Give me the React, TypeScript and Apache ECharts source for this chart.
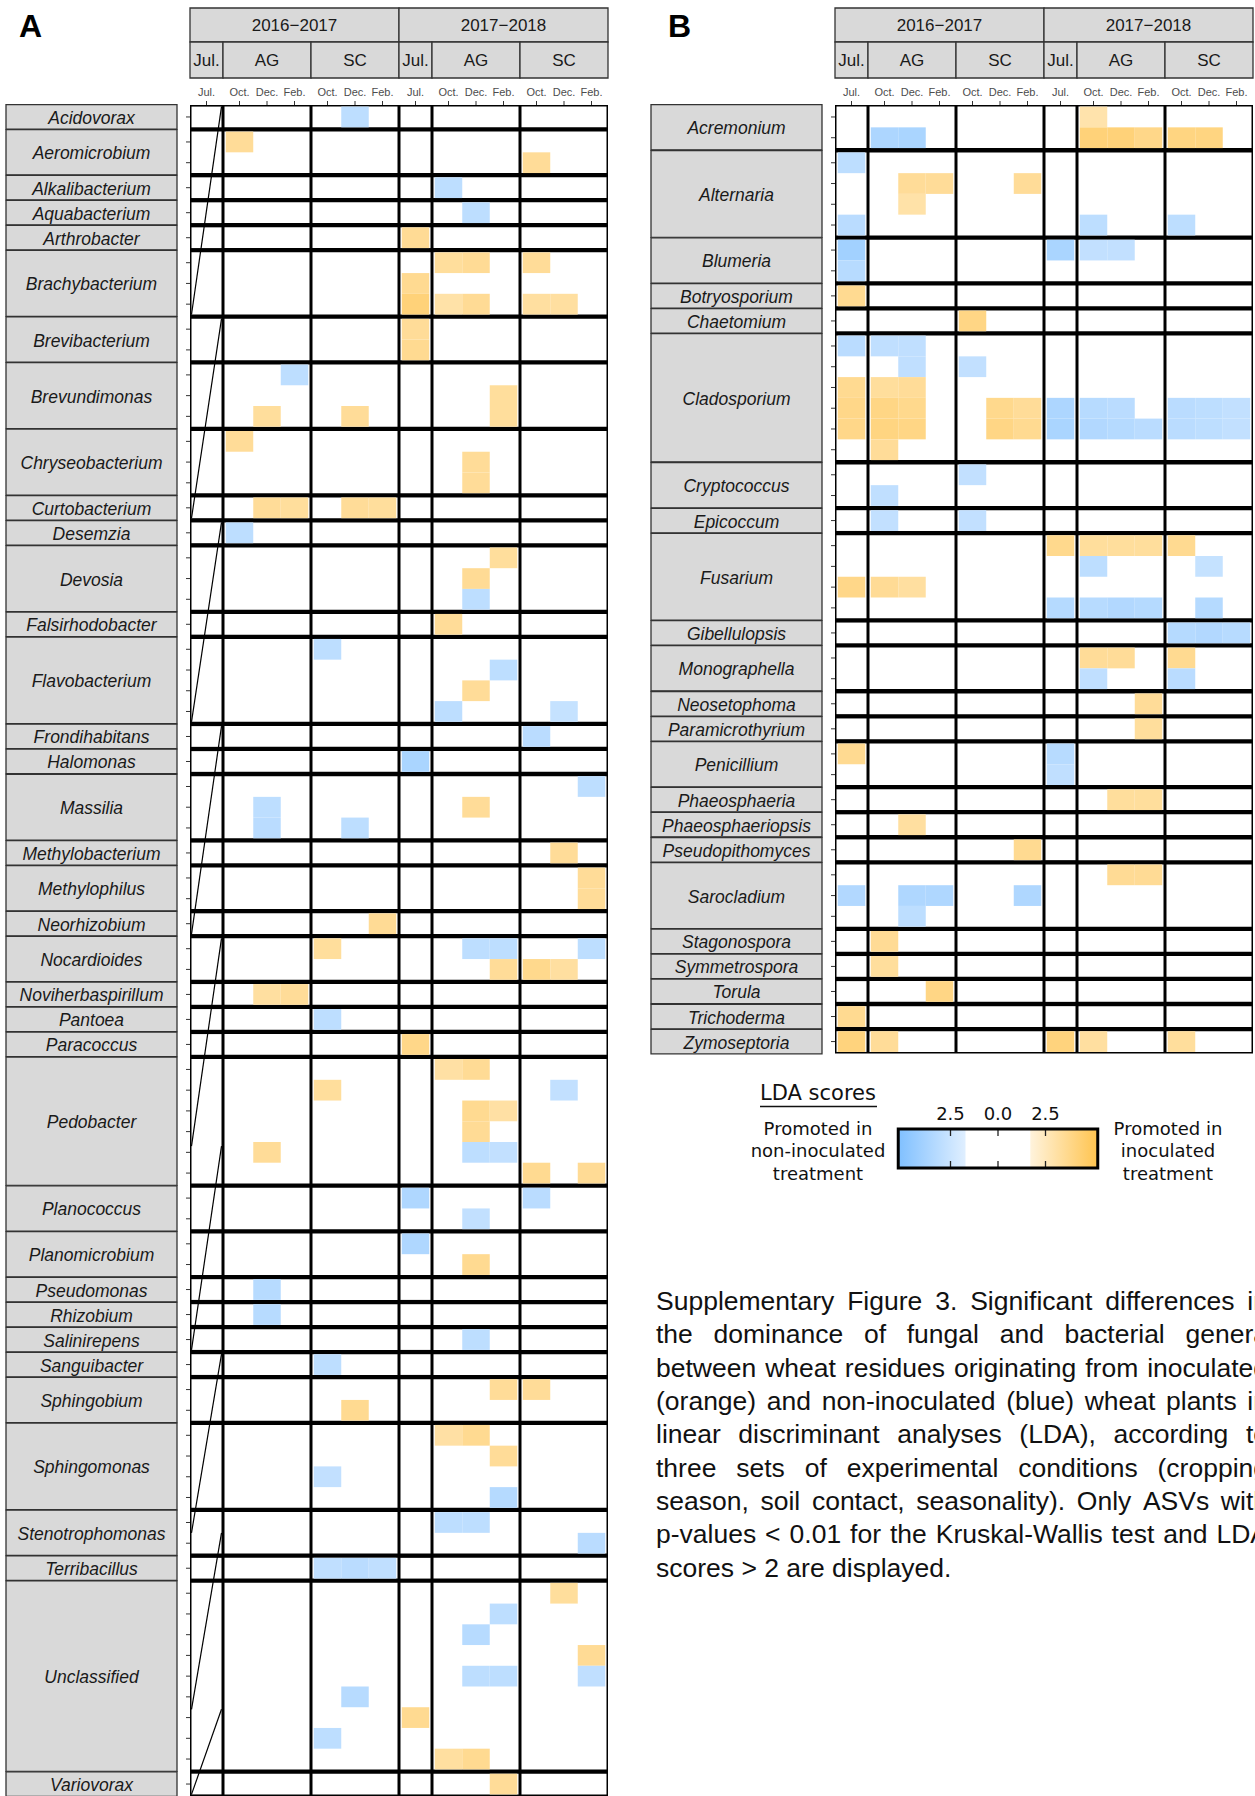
import React, { useEffect, useRef } from "react";
import * as echarts from "echarts";

// ---------------- data ----------------
const YEARS = ["2016−2017", "2017−2018"];
const TREATMENTS = ["Jul.", "AG", "SC"];
const MONTHS = [["Jul."], ["Oct.", "Dec.", "Feb."], ["Oct.", "Dec.", "Feb."]];
// column index: 0 Jul16, 1-3 AG16 Oct/Dec/Feb, 4-6 SC16, 7 Jul17, 8-10 AG17, 11-13 SC17

const BACT_GENERA = [
  "Acidovorax", "Aeromicrobium", "Alkalibacterium", "Aquabacterium", "Arthrobacter",
  "Brachybacterium", "Brevibacterium", "Brevundimonas", "Chryseobacterium", "Curtobacterium",
  "Desemzia", "Devosia", "Falsirhodobacter", "Flavobacterium", "Frondihabitans", "Halomonas",
  "Massilia", "Methylobacterium", "Methylophilus", "Neorhizobium", "Nocardioides",
  "Noviherbaspirillum", "Pantoea", "Paracoccus", "Pedobacter", "Planococcus", "Planomicrobium",
  "Pseudomonas", "Rhizobium", "Salinirepens", "Sanguibacter", "Sphingobium", "Sphingomonas",
  "Stenotrophomonas", "Terribacillus", "Unclassified", "Variovorax",
];
const BACT_ROWS = [1, 2, 1, 1, 1, 3, 2, 3, 3, 1, 1, 3, 1, 4, 1, 1, 3, 1, 2, 1, 2, 1, 1, 1, 6, 2, 2, 1, 1, 1, 1, 2, 4, 2, 1, 9, 1];
// [genus, row, column, LDA score]
const BACT_CELLS: number[][] = [
  [0, 0, 5, -3.0],
  [1, 0, 1, 3.4], [1, 1, 11, 3.4],
  [2, 0, 8, -3.0],
  [3, 0, 9, -3.0],
  [4, 0, 7, 3.5],
  [5, 0, 8, 3.3], [5, 0, 9, 3.5], [5, 0, 11, 3.4], [5, 1, 7, 3.6],
  [5, 2, 7, 4.2], [5, 2, 8, 3.0], [5, 2, 9, 3.5], [5, 2, 11, 3.2], [5, 2, 12, 3.2],
  [6, 0, 7, 3.4], [6, 1, 7, 3.6],
  [7, 0, 3, -3.0], [7, 1, 10, 3.3], [7, 2, 2, 3.3], [7, 2, 5, 3.4], [7, 2, 10, 3.3],
  [8, 0, 1, 3.4], [8, 1, 9, 3.4], [8, 2, 9, 3.4],
  [9, 0, 2, 3.4], [9, 0, 3, 3.3], [9, 0, 5, 3.4], [9, 0, 6, 3.3],
  [10, 0, 1, -3.0],
  [11, 0, 10, 3.3], [11, 1, 9, 3.5], [11, 2, 9, -3.0],
  [12, 0, 8, 3.4],
  [13, 0, 4, -3.0], [13, 1, 10, -3.0], [13, 2, 9, 3.4], [13, 3, 8, -3.0], [13, 3, 12, -2.7],
  [14, 0, 11, -3.1],
  [15, 0, 7, -3.7],
  [16, 0, 13, -3.0], [16, 1, 2, -3.0], [16, 1, 9, 3.4], [16, 2, 2, -3.1], [16, 2, 5, -3.0],
  [17, 0, 12, 3.4],
  [18, 0, 13, 3.4], [18, 1, 13, 3.4],
  [19, 0, 6, 3.5],
  [20, 0, 4, 3.3], [20, 0, 9, -3.0], [20, 0, 10, -3.0], [20, 0, 13, -3.0],
  [20, 1, 10, 3.4], [20, 1, 11, 3.7], [20, 1, 12, 3.2],
  [21, 0, 2, 3.2], [21, 0, 3, 3.4],
  [22, 0, 4, -3.0],
  [23, 0, 7, 3.8],
  [24, 0, 8, 3.1], [24, 0, 9, 3.5], [24, 1, 4, 3.3], [24, 1, 12, -2.8], [24, 2, 9, 3.6], [24, 2, 10, 3.1],
  [24, 3, 9, 3.5], [24, 4, 2, 3.4], [24, 4, 9, -3.0], [24, 4, 10, -2.8], [24, 5, 11, 3.6], [24, 5, 13, 3.5],
  [25, 0, 7, -3.5], [25, 0, 11, -3.1], [25, 1, 9, -2.8],
  [26, 0, 7, -3.5], [26, 1, 9, 3.6],
  [27, 0, 2, -3.2],
  [28, 0, 2, -3.2],
  [29, 0, 9, -3.0],
  [30, 0, 4, -3.0],
  [31, 0, 10, 3.4], [31, 0, 11, 3.4], [31, 1, 5, 3.6],
  [32, 0, 8, 3.1], [32, 0, 9, 3.6], [32, 1, 10, 3.4], [32, 2, 4, -2.8], [32, 3, 10, -3.3],
  [33, 0, 8, -3.0], [33, 0, 9, -3.0], [33, 1, 13, -3.1],
  [34, 0, 4, -2.9], [34, 0, 5, -3.1], [34, 0, 6, -2.9],
  [35, 0, 12, 3.3], [35, 1, 10, -3.0], [35, 2, 9, -3.2], [35, 3, 13, 3.5],
  [35, 4, 9, -3.0], [35, 4, 10, -3.0], [35, 4, 13, -2.9], [35, 5, 5, -3.2], [35, 6, 7, 3.6],
  [35, 7, 4, -3.0], [35, 8, 8, 3.2], [35, 8, 9, 3.6],
  [36, 0, 10, 3.4],
];
// sawtooth stroke in the empty Jul. 2016-2017 facet: [genusFrom, rowFrom, genusTo, rowTo]
const BACT_STROKES: number[][] = [
  [0, 0, 5, 3], [6, 0, 9, 1], [10, 0, 13, 4], [14, 0, 19, 1], [20, 0, 24, 4.2],
  [24, 4.2, 29, 1], [30, 0, 33, 1], [33, 1, 35, 6.1], [35, 6.1, 36, 1],
];

const FUNGI_GENERA = [
  "Acremonium", "Alternaria", "Blumeria", "Botryosporium", "Chaetomium", "Cladosporium",
  "Cryptococcus", "Epicoccum", "Fusarium", "Gibellulopsis", "Monographella", "Neosetophoma",
  "Paramicrothyrium", "Penicillium", "Phaeosphaeria", "Phaeosphaeriopsis", "Pseudopithomyces",
  "Sarocladium", "Stagonospora", "Symmetrospora", "Torula", "Trichoderma", "Zymoseptoria",
];
const FUNGI_ROWS = [2, 4, 2, 1, 1, 6, 2, 1, 4, 1, 2, 1, 1, 2, 1, 1, 1, 3, 1, 1, 1, 1, 1];
const FUNGI_CELLS: number[][] = [
  [0, 0, 8, 2.9], [0, 1, 1, -3.6], [0, 1, 2, -3.7], [0, 1, 8, 4.2], [0, 1, 9, 4.2], [0, 1, 10, 3.8], [0, 1, 11, 4.0], [0, 1, 12, 4.0],
  [1, 0, 0, -3.0], [1, 1, 2, 3.4], [1, 1, 3, 3.4], [1, 1, 6, 3.4], [1, 2, 2, 3.0], [1, 3, 0, -3.1], [1, 3, 8, -3.0], [1, 3, 11, -3.0],
  [2, 0, 0, -4.0], [2, 0, 7, -3.7], [2, 0, 8, -2.8], [2, 0, 9, -2.8], [2, 1, 0, -3.2],
  [3, 0, 0, 3.6],
  [4, 0, 4, 3.9],
  [5, 0, 0, -3.1], [5, 0, 1, -2.9], [5, 0, 2, -2.9], [5, 1, 2, -2.9], [5, 1, 4, -2.8],
  [5, 2, 0, 3.6], [5, 2, 1, 3.3], [5, 2, 2, 3.4],
  [5, 3, 0, 3.8], [5, 3, 1, 3.9], [5, 3, 2, 3.7], [5, 3, 5, 3.7], [5, 3, 6, 3.4], [5, 3, 7, -3.6], [5, 3, 8, -3.2],
  [5, 3, 9, -3.1], [5, 3, 11, -3.1], [5, 3, 12, -3.0], [5, 3, 13, -2.8],
  [5, 4, 0, 3.8], [5, 4, 1, 4.0], [5, 4, 2, 3.9], [5, 4, 5, 3.9], [5, 4, 6, 3.6], [5, 4, 7, -3.7], [5, 4, 8, -3.4],
  [5, 4, 9, -3.3], [5, 4, 10, -3.1], [5, 4, 11, -3.1], [5, 4, 12, -3.0], [5, 4, 13, -2.8],
  [5, 5, 1, 3.4],
  [6, 0, 4, -2.8], [6, 1, 1, -2.9],
  [7, 0, 1, -2.8], [7, 0, 4, -2.8],
  [8, 0, 7, 3.7], [8, 0, 8, 3.3], [8, 0, 9, 3.3], [8, 0, 10, 3.3], [8, 0, 11, 3.6],
  [8, 1, 8, -3.0], [8, 1, 12, -2.7], [8, 2, 0, 3.8], [8, 2, 1, 3.5], [8, 2, 2, 3.2],
  [8, 3, 7, -3.3], [8, 3, 8, -3.2], [8, 3, 9, -3.4], [8, 3, 10, -3.3], [8, 3, 12, -3.3],
  [9, 0, 11, -3.3], [9, 0, 12, -3.4], [9, 0, 13, -3.2],
  [10, 0, 8, 3.4], [10, 0, 9, 3.4], [10, 0, 11, 3.6], [10, 1, 8, -2.9], [10, 1, 11, -3.1],
  [11, 0, 10, 3.4],
  [12, 0, 10, 3.3],
  [13, 0, 0, 3.6], [13, 0, 7, -3.2], [13, 1, 7, -2.9],
  [14, 0, 9, 3.3], [14, 0, 10, 3.3],
  [15, 0, 2, 3.2],
  [16, 0, 6, 3.6],
  [17, 0, 9, 3.5], [17, 0, 10, 3.5], [17, 1, 0, -3.4], [17, 1, 2, -3.5], [17, 1, 3, -3.5], [17, 1, 6, -3.5], [17, 2, 2, -3.0],
  [18, 0, 1, 3.5],
  [19, 0, 1, 3.3],
  [20, 0, 3, 3.9],
  [21, 0, 0, 3.6],
  [22, 0, 0, 4.1], [22, 0, 1, 3.4], [22, 0, 7, 4.1], [22, 0, 8, 3.2], [22, 0, 11, 3.3],
];

const LEGEND_TICKS = [-2.5, 0, 2.5];
const LEGEND_TICK_LABELS = ["2.5", "0.0", "2.5"];
const LEGEND_TITLE = "LDA scores";
const LEGEND_LEFT_TEXT = ["Promoted in", "non-inoculated", "treatment"];
const LEGEND_RIGHT_TEXT = ["Promoted in", "inoculated", "treatment"];
const PANEL_LETTERS = ["A", "B"];
const CAPTION_LINES = [
  "Supplementary Figure 3. Significant differences in",
  "the dominance of fungal and bacterial genera",
  "between wheat residues originating from inoculated",
  "(orange) and non-inoculated (blue) wheat plants in",
  "linear discriminant analyses (LDA), according to",
  "three sets of experimental conditions (cropping",
  "season, soil contact, seasonality). Only ASVs with",
  "p-values < 0.01 for the Kruskal-Wallis test and LDA",
  "scores > 2 are displayed.",
];

// ---------------- layout & style ----------------
const PAGE_W = 1255;
const PAGE_H = 1796;
const COL_W = 27.5;
const ROW_H = [20.83, 20.75];
const PAD = 0.1;
const INSET = 1.5 / COL_W;
const GAP_PX = 4.3;
const EDGE_PX = 1.6;
const GRID_TOP = 105;
const PANEL_LEFT = [190, 835];
const LABEL_W = 171;
const LABEL_GAP = 13;
const FONT = "Liberation Sans";
const STRIP_FILL = "#D9D9D9";
const STRIP_STROKE = "#333333";
const TEXT_DARK = "#1A1A1A";

const BLUE_LOW = "#E0EFFF";
const BLUE_HIGH = "#80C0FF";
const ORANGE_LOW = "#FFF3DC";
const ORANGE_HIGH = "#FFC44F";
const WHITE_LIMIT = 1.7;
const SCALE_MAX = 5.25;

type Facet = { yi: number; ti: number; x0: number; x1: number };
const FACETS: Facet[] = [];
const COLUMNS: { x: number; label: string }[] = [];
(() => {
  let xs = 0;
  YEARS.forEach((_y, yi) =>
    TREATMENTS.forEach((_t, ti) => {
      const n = MONTHS[ti].length;
      MONTHS[ti].forEach((m, k) => COLUMNS.push({ x: xs + PAD + k, label: m }));
      const f = { yi, ti, x0: xs, x1: xs + n + 2 * PAD };
      FACETS.push(f);
      xs = f.x1;
    })
  );
})();
const X_TOTAL = FACETS[FACETS.length - 1].x1;

function blockLayout(rows: number[], rowH: number) {
  const gap = GAP_PX / rowH;
  const edge = EDGE_PX / rowH;
  const tops: number[] = [];
  let y = edge;
  rows.forEach((n) => {
    tops.push(y);
    y += n + gap;
  });
  return { tops, total: y - gap + edge };
}

function hexRgb(h: string) {
  return [parseInt(h.slice(1, 3), 16), parseInt(h.slice(3, 5), 16), parseInt(h.slice(5, 7), 16)];
}
function mix(a: string, b: string, t: number) {
  const A = hexRgb(a);
  const B = hexRgb(b);
  const c = A.map((v, i) => Math.round(v + (B[i] - v) * t));
  return `rgb(${c[0]},${c[1]},${c[2]})`;
}
function cellColor(v: number) {
  const t = Math.max(0, Math.min(1, (Math.abs(v) - WHITE_LIMIT) / (SCALE_MAX - WHITE_LIMIT)));
  return v > 0 ? mix(ORANGE_LOW, ORANGE_HIGH, t) : mix(BLUE_LOW, BLUE_HIGH, t);
}

function txt(text: string, x: number, y: number, size: number, extra: any = {}) {
  return {
    text, x, y, fontSize: size, fontFamily: FONT, fill: TEXT_DARK,
    align: "center", verticalAlign: "middle", textAlign: "center", textVerticalAlign: "middle",
    ...extra,
  };
}

function buildPanel(p: number, genera: string[], rows: number[], cells: number[][], strokes: number[][]) {
  const left = PANEL_LEFT[p];
  const rowH = ROW_H[p];
  const { tops, total } = blockLayout(rows, rowH);
  const ax = { xAxisIndex: p, yAxisIndex: p, coordinateSystem: "cartesian2d", silent: true, clip: false };
  const series: any[] = [];

  const frames: number[][] = [];
  FACETS.forEach((f) => rows.forEach((n, k) => frames.push([f.x0 + INSET, tops[k], f.x1 - INSET, tops[k] + n])));
  series.push({
    type: "custom", ...ax, z: 1, data: frames,
    renderItem: (_pa: any, api: any) => {
      const a = api.coord([api.value(0), api.value(1)]);
      const b = api.coord([api.value(2), api.value(3)]);
      return { type: "rect", shape: { x: a[0], y: a[1], width: b[0] - a[0], height: b[1] - a[1] }, style: { fill: "#FFFFFF" } };
    },
  });

  series.push({
    type: "custom", ...ax, z: 2,
    data: cells.map(([g, r, c, v]) => [COLUMNS[c].x, tops[g] + r, v]),
    renderItem: (_pa: any, api: any) => {
      const x = api.value(0);
      const y = api.value(1);
      const a = api.coord([x, y]);
      const b = api.coord([x + 1, y + 1]);
      return { type: "rect", shape: { x: a[0], y: a[1], width: b[0] - a[0], height: b[1] - a[1] }, style: { fill: cellColor(api.value(2)) } };
    },
  });

  if (strokes.length) {
    const f0 = FACETS[0];
    series.push({
      type: "custom", ...ax, z: 3,
      data: strokes.map(([g1, r1, g2, r2]) => [f0.x1 - INSET, tops[g1] + r1, f0.x0 + INSET, tops[g2] + r2]),
      renderItem: (_pa: any, api: any) => {
        const a = api.coord([api.value(0), api.value(1)]);
        const b = api.coord([api.value(2), api.value(3)]);
        return { type: "line", shape: { x1: a[0], y1: a[1], x2: b[0], y2: b[1] }, style: { stroke: "#000", lineWidth: 1.2 } };
      },
    });
  }

  // genus label boxes
  series.push({
    type: "custom", ...ax, z: 4,
    data: rows.map((n, k) => [0, tops[k], tops[k] + n, k]),
    renderItem: (_pa: any, api: any) => {
      const a = api.coord([0, api.value(1)]);
      const b = api.coord([0, api.value(2)]);
      const k = api.value(3);
      const x0 = left - LABEL_GAP - LABEL_W;
      const y0 = a[1] - 1.9;
      const y1 = b[1] + 1.9;
      return {
        type: "group",
        children: [
          { type: "rect", shape: { x: x0, y: y0, width: LABEL_W, height: y1 - y0 }, style: { fill: STRIP_FILL, stroke: STRIP_STROKE, lineWidth: 1.3 } },
          { type: "text", style: txt(genera[k], x0 + LABEL_W / 2, (y0 + y1) / 2 + 1, 17.5, { fontStyle: "italic" }) },
        ],
      };
    },
  });

  // row ticks
  const rowCenters: number[][] = [];
  rows.forEach((n, k) => {
    for (let r = 0; r < n; r++) rowCenters.push([0, tops[k] + r + 0.5]);
  });
  series.push({
    type: "custom", ...ax, z: 4, data: rowCenters,
    renderItem: (_pa: any, api: any) => {
      const a = api.coord([0, api.value(1)]);
      return { type: "line", shape: { x1: a[0] - 4, y1: a[1], x2: a[0], y2: a[1] }, style: { stroke: "#333", lineWidth: 1 } };
    },
  });

  // column ticks and labels
  series.push({
    type: "custom", ...ax, z: 4,
    data: COLUMNS.map((c, i) => [c.x + 0.5, 0, i]),
    renderItem: (_pa: any, api: any) => {
      const a = api.coord([api.value(0), 0]);
      const i = api.value(2);
      return {
        type: "group",
        children: [
          { type: "line", shape: { x1: a[0], y1: GRID_TOP - 4, x2: a[0], y2: GRID_TOP }, style: { stroke: "#333", lineWidth: 1 } },
          { type: "text", style: txt(COLUMNS[i].label, a[0], GRID_TOP - 13, 11, { fill: "#4D4D4D" }) },
        ],
      };
    },
  });

  // strips
  const strips: number[][] = [];
  YEARS.forEach((_y, yi) => {
    const fs = FACETS.filter((f) => f.yi === yi);
    strips.push([fs[0].x0, fs[fs.length - 1].x1, 0, yi]);
  });
  FACETS.forEach((f) => strips.push([f.x0, f.x1, 1, f.ti]));
  series.push({
    type: "custom", ...ax, z: 4, data: strips,
    renderItem: (_pa: any, api: any) => {
      const a = api.coord([api.value(0), 0]);
      const b = api.coord([api.value(1), 0]);
      const level = api.value(2);
      const i = api.value(3);
      const y0 = level === 0 ? 8 : 42;
      const y1 = level === 0 ? 42 : 78;
      const label = level === 0 ? YEARS[i] : TREATMENTS[i];
      return {
        type: "group",
        children: [
          { type: "rect", shape: { x: a[0], y: y0, width: b[0] - a[0], height: y1 - y0 }, style: { fill: STRIP_FILL, stroke: STRIP_STROKE, lineWidth: 1.3 } },
          { type: "text", style: txt(label, (a[0] + b[0]) / 2, (y0 + y1) / 2, 17) },
        ],
      };
    },
  });

  const grid = { left, top: GRID_TOP, width: X_TOTAL * COL_W, height: total * rowH, show: true, backgroundColor: "#000", borderWidth: 0 };
  const xAxis = { gridIndex: p, type: "value", min: 0, max: X_TOTAL, show: false };
  const yAxis = { gridIndex: p, type: "value", min: 0, max: total, inverse: true, show: false };
  return { grid, xAxis, yAxis, series };
}

// ---------------- legend & caption (graphic) ----------------
const LEG_ZERO = 998;
const LEG_PX = 19;
const LEG_Y0 = 1129;
const LEG_Y1 = 1168;
const legX = (v: number) => LEG_ZERO + v * LEG_PX;

function buildGraphic() {
  const els: any[] = [];
  const T = (text: string, x: number, y: number, size: number, extra: any = {}) =>
    els.push({ type: "text", x: 0, y: 0, silent: true, style: txt(text, x, y, size, extra) });

  T(PANEL_LETTERS[0], 30.5, 25.5, 32, { fontWeight: "bold", fill: "#000" });
  T(PANEL_LETTERS[1], 679.5, 25.5, 32, { fontWeight: "bold", fill: "#000" });

  // legend
  const dv = { fontFamily: "DejaVu Sans", fill: "#111" };
  T(LEGEND_TITLE, 818, 1093, 21, dv);
  els.push({ type: "line", silent: true, shape: { x1: 760, y1: 1106.5, x2: 877, y2: 1106.5 }, style: { stroke: "#111", lineWidth: 1.5 } });
  LEGEND_LEFT_TEXT.forEach((s, i) => T(s, 818, 1128 + i * 22.7, 18, dv));
  LEGEND_RIGHT_TEXT.forEach((s, i) => T(s, 1168, 1128 + i * 22.7, 18, dv));
  LEGEND_TICKS.forEach((v, i) => T(LEGEND_TICK_LABELS[i], legX(v), 1113.5, 18, dv));

  const grad = (c0: string, c1: string) => ({
    type: "linear", x: 0, y: 0, x2: 1, y2: 0,
    colorStops: [{ offset: 0, color: c0 }, { offset: 1, color: c1 }],
  });
  els.push({ type: "rect", silent: true, shape: { x: legX(-SCALE_MAX), y: LEG_Y0, width: legX(-WHITE_LIMIT) - legX(-SCALE_MAX), height: LEG_Y1 - LEG_Y0 }, style: { fill: grad(BLUE_HIGH, BLUE_LOW) } });
  els.push({ type: "rect", silent: true, shape: { x: legX(-WHITE_LIMIT), y: LEG_Y0, width: legX(WHITE_LIMIT) - legX(-WHITE_LIMIT), height: LEG_Y1 - LEG_Y0 }, style: { fill: "#FFFFFF" } });
  els.push({ type: "rect", silent: true, shape: { x: legX(WHITE_LIMIT), y: LEG_Y0, width: legX(SCALE_MAX) - legX(WHITE_LIMIT), height: LEG_Y1 - LEG_Y0 }, style: { fill: grad(ORANGE_LOW, ORANGE_HIGH) } });
  LEGEND_TICKS.forEach((v) => {
    els.push({ type: "line", silent: true, shape: { x1: legX(v), y1: LEG_Y0, x2: legX(v), y2: LEG_Y0 + 7 }, style: { stroke: "#222", lineWidth: 1.3 } });
    els.push({ type: "line", silent: true, shape: { x1: legX(v), y1: LEG_Y1 - 7, x2: legX(v), y2: LEG_Y1 }, style: { stroke: "#222", lineWidth: 1.3 } });
  });
  els.push({ type: "rect", silent: true, shape: { x: legX(-SCALE_MAX), y: LEG_Y0, width: legX(SCALE_MAX) - legX(-SCALE_MAX), height: LEG_Y1 - LEG_Y0 }, style: { fill: "none", stroke: "#000", lineWidth: 3 } });

  // caption, justified (the right part runs past the page edge, as in the original)
  const CAP_SIZE = 26.5;
  const CAP_X = 656;
  const CAP_W = 612;
  const CAP_Y = 1301;
  const CAP_LH = 33.35;
  const ctx = document.createElement("canvas").getContext("2d") as CanvasRenderingContext2D;
  ctx.font = `${CAP_SIZE}px "${FONT}"`;
  const spaceW = ctx.measureText(" ").width;
  CAPTION_LINES.forEach((line, i) => {
    const y = CAP_Y + i * CAP_LH;
    const last = i === CAPTION_LINES.length - 1;
    if (last) {
      T(line, CAP_X, y, CAP_SIZE, { align: "left", textAlign: "left", fill: "#111" });
      return;
    }
    const words = line.split(" ");
    const widths = words.map((w) => ctx.measureText(w).width);
    const sum = widths.reduce((s, w) => s + w, 0);
    const sp = Math.max(spaceW, (CAP_W - sum) / (words.length - 1));
    let x = CAP_X;
    words.forEach((w, j) => {
      T(w, x, y, CAP_SIZE, { align: "left", textAlign: "left", fill: "#111" });
      x += widths[j] + sp;
    });
  });
  return els;
}

export default function App() {
  const ref = useRef<HTMLDivElement>(null);
  useEffect(() => {
    if (!ref.current) return;
    const chart = echarts.init(ref.current, null, { renderer: "svg", width: PAGE_W, height: PAGE_H });
    const A = buildPanel(0, BACT_GENERA, BACT_ROWS, BACT_CELLS, BACT_STROKES);
    const B = buildPanel(1, FUNGI_GENERA, FUNGI_ROWS, FUNGI_CELLS, []);
    chart.setOption({
      animation: false,
      backgroundColor: "#FFFFFF",
      grid: [A.grid, B.grid],
      xAxis: [A.xAxis, B.xAxis],
      yAxis: [A.yAxis, B.yAxis],
      series: [...A.series, ...B.series],
      graphic: { elements: buildGraphic() },
    });
    return () => chart.dispose();
  }, []);
  return (
    <div
      ref={ref}
      style={{ position: "absolute", left: 0, top: 0, width: PAGE_W, height: PAGE_H, background: "#fff" }}
    />
  );
}
